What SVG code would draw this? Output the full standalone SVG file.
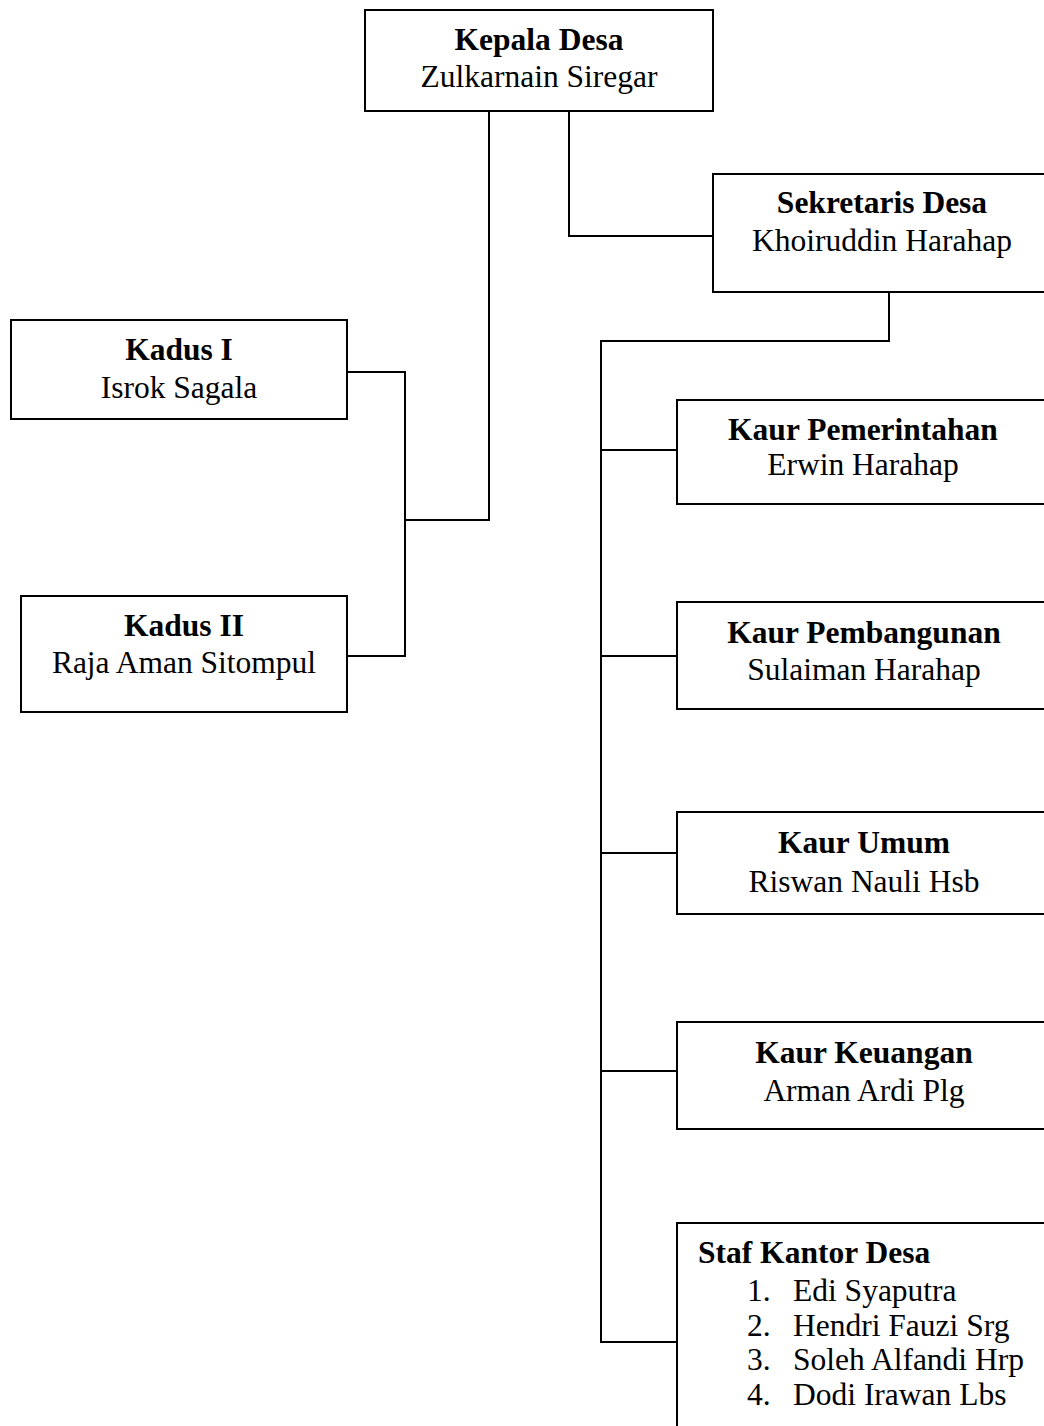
<svg xmlns="http://www.w3.org/2000/svg" width="1044" height="1426" viewBox="0 0 1044 1426">
<style>
.box{fill:#fff;stroke:#000;stroke-width:2}
.ln{fill:none;stroke:#000;stroke-width:2}
text{font-family:"Liberation Serif","Times New Roman",serif;font-size:31.5px;fill:#000}
.b{font-weight:bold}
.c{text-anchor:middle}
</style>
<rect width="1044" height="1426" fill="#fff"/>
<g id="connectors">
<polyline class="ln" points="489,111 489,520 405,520"/>
<polyline class="ln" points="347,372 405,372 405,656 347,656"/>
<polyline class="ln" points="569,111 569,236 713,236"/>
<polyline class="ln" points="889,292 889,341 601,341 601,1342 677,1342"/>
<line class="ln" x1="601" y1="450" x2="677" y2="450"/>
<line class="ln" x1="601" y1="656" x2="677" y2="656"/>
<line class="ln" x1="601" y1="853" x2="677" y2="853"/>
<line class="ln" x1="601" y1="1071" x2="677" y2="1071"/>
</g>
<g id="kepala-desa">
<rect class="box" x="365" y="10" width="348" height="101"/>
<text class="b c" x="539" y="50">Kepala Desa</text>
<text class="c" x="539" y="87">Zulkarnain Siregar</text>
</g>
<g id="sekretaris-desa">
<rect class="box" x="713" y="174" width="340" height="118"/>
<text class="b c" x="882" y="213">Sekretaris Desa</text>
<text class="c" x="882" y="251">Khoiruddin Harahap</text>
</g>
<g id="kadus-1">
<rect class="box" x="11" y="320" width="336" height="99"/>
<text class="b c" x="179" y="360">Kadus I</text>
<text class="c" x="179" y="398">Isrok Sagala</text>
</g>
<g id="kadus-2">
<rect class="box" x="21" y="596" width="326" height="116"/>
<text class="b c" x="184" y="636">Kadus II</text>
<text class="c" x="184" y="673">Raja Aman Sitompul</text>
</g>
<g id="kaur-pemerintahan">
<rect class="box" x="677" y="400" width="375" height="104"/>
<text class="b c" x="863" y="440">Kaur Pemerintahan</text>
<text class="c" x="863" y="475">Erwin Harahap</text>
</g>
<g id="kaur-pembangunan">
<rect class="box" x="677" y="602" width="375" height="107"/>
<text class="b c" x="864" y="643">Kaur Pembangunan</text>
<text class="c" x="864" y="680">Sulaiman Harahap</text>
</g>
<g id="kaur-umum">
<rect class="box" x="677" y="812" width="375" height="102"/>
<text class="b c" x="864" y="853">Kaur Umum</text>
<text class="c" x="864" y="892">Riswan Nauli Hsb</text>
</g>
<g id="kaur-keuangan">
<rect class="box" x="677" y="1022" width="375" height="107"/>
<text class="b c" x="864" y="1063">Kaur Keuangan</text>
<text class="c" x="864" y="1101">Arman Ardi Plg</text>
</g>
<g id="staf-kantor-desa">
<rect class="box" x="677" y="1223" width="375" height="220"/>
<text class="b" x="698" y="1263">Staf Kantor Desa</text>
<text x="747" y="1301">1.</text><text x="793" y="1301">Edi Syaputra</text>
<text x="747" y="1336">2.</text><text x="793" y="1336">Hendri Fauzi Srg</text>
<text x="747" y="1370">3.</text><text x="793" y="1370">Soleh Alfandi Hrp</text>
<text x="747" y="1405">4.</text><text x="793" y="1405">Dodi Irawan Lbs</text>
</g>
</svg>
